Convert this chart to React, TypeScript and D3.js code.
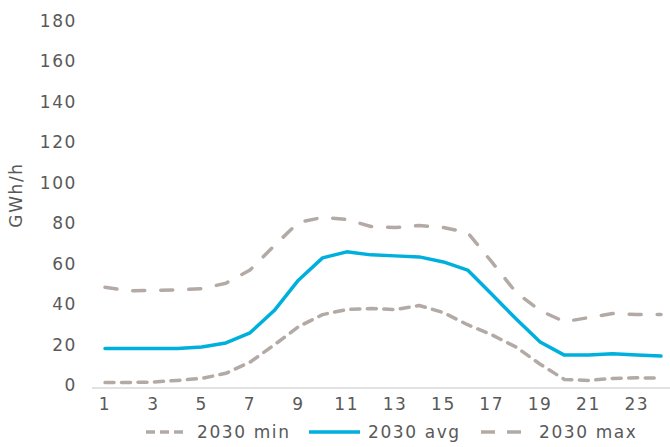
import React from "react";
import * as d3 from "d3";

const hours = [1,2,3,4,5,6,7,8,9,10,11,12,13,14,15,16,17,18,19,20,21,22,23,24];
const minValues = [2.5,2.5,2.7,3.5,4.5,7,12.5,21,30,36,38.5,39,38.5,40.5,37,31,26,20,11.5,4,3.5,4.5,4.8,4.6];
const avgValues = [19.2,19.2,19.2,19.2,20,22,27,38,53,64,67,65.5,65,64.5,62,58,46,34,22.5,16,16,16.7,16,15.5];
const maxValues = [49.5,47.8,48,48.2,48.8,51.5,58,70,81.5,84,83,79.5,79,80,79,76.5,62,47,38,32.5,34.5,36.5,36,36];
const yTicks = [0,20,40,60,80,100,120,140,160,180];
const xTickLabels = [1,3,5,7,9,11,13,15,17,19,21,23];
const seriesNames = ["2030 min", "2030 avg", "2030 max"];

const W = 670, H = 447;
const FONT = "'DejaVu Sans', sans-serif";
const TEXT = "#595959";
const BLUE = "#00B0DC";
const GREY = "#B3AAA5";

export default function App() {
  const x = d3.scalePoint<number>().domain(hours).range([105, 661]);
  const y = d3.scaleLinear().domain([0, 180]).range([387.5, 23]);
  const line = d3.line<number>().x((_, i) => x(hours[i])!).y(d => y(d));

  const series = [
    { name: seriesNames[0], data: minValues, color: GREY, dash: "9 7.5", cap: "round" },
    { name: seriesNames[1], data: avgValues, color: BLUE, dash: undefined, cap: "round" },
    { name: seriesNames[2], data: maxValues, color: GREY, dash: "12 16", cap: "round" },
  ];

  const legendItems = [
    { x0: 146, x1: 188, tx: 197 },
    { x0: 309, x1: 360, tx: 368 },
    { x0: 481, x1: 528, tx: 539 },
  ];
  const ly = 432;
  const ls = 1.6;

  return (
    <svg width={W} height={H} style={{ position: "absolute", left: 0, top: 0 }} fontFamily={FONT}>
      <rect width={W} height={H} fill="#fff" />
      <line x1={92} x2={670} y1={388} y2={388} stroke="#D9D9D9" strokeWidth={1.5} />
      {yTicks.map(t => (
        <text key={t} x={77} y={y(t) - 2.5} textAnchor="end" dominantBaseline="central"
          fontSize={17} fill={TEXT} letterSpacing={ls}>{t}</text>
      ))}
      {xTickLabels.map(t => (
        <text key={t} x={x(t)!} y={410} textAnchor="middle" fontSize={17} fill={TEXT} letterSpacing={ls}>{t}</text>
      ))}
      <text transform="translate(22,195) rotate(-90)" textAnchor="middle" fontSize={17} fill={TEXT} letterSpacing={ls}>GWh/h</text>
      {series.map(s => (
        <path key={s.name} d={line(s.data)!} fill="none" stroke={s.color} strokeWidth={3.5}
          strokeDasharray={s.dash} strokeLinecap={s.cap as any} strokeLinejoin="round" />
      ))}
      {series.map((s, i) => (
        <g key={"lg" + s.name}>
          <line x1={legendItems[i].x0} x2={legendItems[i].x1} y1={ly} y2={ly} stroke={s.color}
            strokeWidth={3.5} strokeDasharray={i === 0 ? "9 5" : i === 2 ? "14 12" : undefined} />
          <text x={legendItems[i].tx} y={ly} dominantBaseline="central" fontSize={17} fill={TEXT} letterSpacing={ls}>{s.name}</text>
        </g>
      ))}
    </svg>
  );
}
